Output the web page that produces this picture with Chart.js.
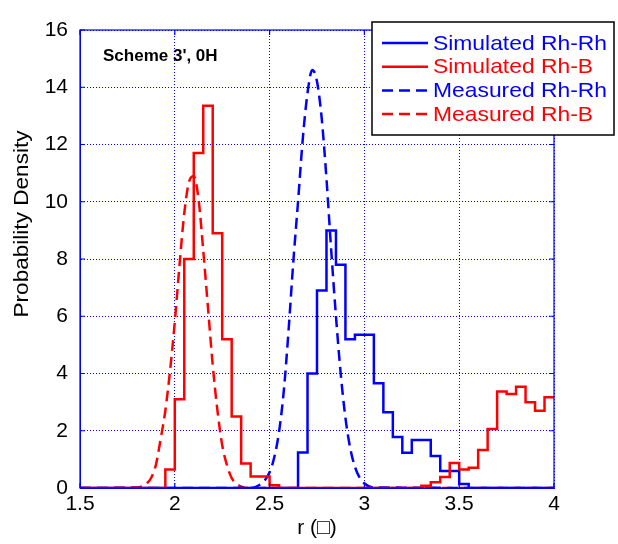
<!DOCTYPE html>
<html>
<head>
<meta charset="utf-8">
<script src="https://cdn.jsdelivr.net/npm/chart.js@4.4.0/dist/chart.umd.min.js"></script>
<style>
  html, body { margin: 0; padding: 0; background: #ffffff; }
  #wrap { width: 618px; height: 544px; }
</style>
</head>
<body>
<div id="wrap"><canvas id="myChart" width="618" height="544"></canvas></div>
<script>
// histogram bin edges (left edge of each bin, last one closes the final bin)
var binEdges = [1.5, 1.55, 1.6, 1.65, 1.7, 1.75, 1.8, 1.85, 1.9, 1.95,
                2.0, 2.05, 2.1, 2.15, 2.2, 2.25, 2.3, 2.35, 2.4, 2.45,
                2.5, 2.55, 2.6, 2.65, 2.7, 2.75, 2.8, 2.85, 2.9, 2.95,
                3.0, 3.05, 3.1, 3.15, 3.2, 3.25, 3.3, 3.35, 3.4, 3.45,
                3.5, 3.55, 3.6, 3.65, 3.7, 3.75, 3.8, 3.85, 3.9, 3.95, 4.0];

var simRhRh = [0, 0, 0, 0, 0, 0, 0, 0, 0, 0,
               0, 0, 0, 0, 0, 0, 0, 0, 0, 0,
               0, 0, 0, 1.24, 4.0, 6.9, 9.0, 7.8, 5.2, 5.35,
               5.35, 3.66, 2.65, 1.78, 1.23, 1.68, 1.68, 1.12, 0.59, 0.59,
               0.14, 0, 0, 0, 0, 0, 0, 0, 0, 0, 0];

var simRhB = [0, 0, 0, 0, 0, 0, 0, 0, 0, 0.65,
              3.1, 8.0, 11.7, 13.35, 8.9, 5.2, 2.5, 0.86, 0.4, 0.4,
              0.1, 0, 0, 0, 0, 0, 0, 0, 0, 0,
              0, 0, 0, 0, 0, 0, 0.08, 0.2, 0.38, 0.87,
              0.65, 0.71, 1.33, 2.06, 3.37, 3.28, 3.54, 3.0, 2.7, 3.17, 3.17];

// measured distributions (smooth curves)
var measRhRhR = [1.5, 2.4, 2.45, 2.475, 2.5, 2.525, 2.55, 2.575, 2.6, 2.625,
                 2.65, 2.675, 2.7, 2.725, 2.75, 2.775, 2.8, 2.825, 2.85, 2.875,
                 2.9, 2.925, 2.95, 2.975, 3.0, 3.05, 4.0];
var measRhRhY = [0, 0, 0.12, 0.27, 0.55, 1.08, 1.97, 3.4, 5.5, 7.9,
                 10.0, 12.2, 13.8, 14.6, 14.2, 12.9, 10.8, 8.3, 6.0, 4.0,
                 2.45, 1.4, 0.74, 0.36, 0.16, 0.02, 0];

var measRhBR = [1.5, 1.8, 1.85, 1.875, 1.9, 1.925, 1.95, 1.975, 2.0, 2.025,
                2.05, 2.075, 2.1, 2.125, 2.15, 2.175, 2.2, 2.225, 2.25, 2.275,
                2.3, 2.325, 2.35, 2.4, 4.0];
var measRhBY = [0, 0.02, 0.15, 0.35, 0.8, 1.7, 2.7, 4.1, 5.8, 7.8,
                9.6, 10.7, 10.9, 10.1, 8.3, 6.3, 4.3, 2.7, 1.5, 0.8,
                0.35, 0.15, 0.05, 0, 0];

var xTicks = [1.5, 2, 2.5, 3, 3.5, 4];
var xTickLabels = ['1.5', '2', '2.5', '3', '3.5', '4'];
var yTicks = [0, 2, 4, 6, 8, 10, 12, 14, 16];

var blue = 'rgb(0,0,255)';
var red = 'rgb(255,0,0)';
var fontFam = '"Liberation Sans", Arial, Helvetica, sans-serif';

function pairs(xs, ys) {
    return xs.map(function(x, i) { return {x: x, y: ys[i]}; });
}

// box, inner ticks, legend and labels
var decorations = {
    id: 'decorations',
    afterDatasetsDraw: function(chart) {
        var ctx = chart.ctx, a = chart.chartArea;
        var xs = chart.scales.x, ys = chart.scales.y;
        ctx.save();
        ctx.strokeStyle = blue;
        ctx.lineWidth = 1.2;
        ctx.strokeRect(a.left, a.top, a.right - a.left, a.bottom - a.top);
        ctx.beginPath();
        xTicks.forEach(function(v) {
            var px = xs.getPixelForValue(v);
            ctx.moveTo(px, a.bottom); ctx.lineTo(px, a.bottom - 5);
            ctx.moveTo(px, a.top); ctx.lineTo(px, a.top + 5);
        });
        yTicks.forEach(function(v) {
            var py = ys.getPixelForValue(v);
            ctx.moveTo(a.left, py); ctx.lineTo(a.left + 5, py);
            ctx.moveTo(a.right, py); ctx.lineTo(a.right - 5, py);
        });
        ctx.stroke();
        ctx.restore();
    },
    afterDraw: function(chart) {
        var ctx = chart.ctx;
        ctx.save();

        // annotation
        ctx.fillStyle = '#000';
        ctx.font = 'bold 17px ' + fontFam;
        ctx.textBaseline = 'middle';
        ctx.textAlign = 'left';
        ctx.fillText("Scheme 3', 0H", 103, 56);

        // y axis title
        ctx.font = '21px ' + fontFam;
        var yt = 'Probability Density';
        var sx = 187 / ctx.measureText(yt).width;
        ctx.save();
        ctx.translate(22, 224);
        ctx.rotate(-Math.PI / 2);
        ctx.scale(sx, 1);
        ctx.textAlign = 'center';
        ctx.fillText(yt, 0, 0);
        ctx.restore();

        // legend
        var lx = 372, ly = 22, lw = 242, lh = 113;
        ctx.fillStyle = '#fff';
        ctx.fillRect(lx, ly, lw, lh);
        ctx.strokeStyle = '#000';
        ctx.lineWidth = 1.5;
        ctx.strokeRect(lx, ly, lw, lh);
        ctx.font = '21px ' + fontFam;
        var tsx = 174 / ctx.measureText(chart.data.datasets[0].label).width;
        chart.data.datasets.forEach(function(ds, i) {
            var rowY = 43 + i * 23.7;
            ctx.strokeStyle = ds.borderColor;
            ctx.lineWidth = 2.5;
            ctx.setLineDash(ds.borderDash || []);
            ctx.beginPath();
            ctx.moveTo(382, rowY);
            ctx.lineTo(428, rowY);
            ctx.stroke();
            ctx.setLineDash([]);
            ctx.save();
            ctx.translate(433, rowY + 1);
            ctx.scale(tsx, 1);
            ctx.fillStyle = ds.borderColor;
            ctx.textAlign = 'left';
            ctx.textBaseline = 'middle';
            ctx.fillText(ds.label, 0, 0);
            ctx.restore();
        });
        ctx.restore();
    }
};

var ctx = document.getElementById('myChart').getContext('2d');
var myChart = new Chart(ctx, {
    type: 'line',
    data: {
        datasets: [{
            label: 'Simulated Rh-Rh',
            data: pairs(binEdges, simRhRh),
            borderColor: blue,
            borderWidth: 2.5,
            stepped: true,
            pointRadius: 0,
            fill: false,
            order: 1
        }, {
            label: 'Simulated Rh-B',
            data: pairs(binEdges, simRhB),
            borderColor: red,
            borderWidth: 2.5,
            stepped: true,
            pointRadius: 0,
            fill: false,
            order: 0
        }, {
            label: 'Measured Rh-Rh',
            data: pairs(measRhRhR, measRhRhY),
            borderColor: blue,
            borderWidth: 2.5,
            borderDash: [11, 6],
            cubicInterpolationMode: 'monotone',
            pointRadius: 0,
            fill: false,
            order: 2
        }, {
            label: 'Measured Rh-B',
            data: pairs(measRhBR, measRhBY),
            borderColor: red,
            borderWidth: 2.5,
            borderDash: [11, 6],
            cubicInterpolationMode: 'monotone',
            pointRadius: 0,
            fill: false,
            order: 3
        }]
    },
    options: {
        responsive: false,
        animation: false,
        devicePixelRatio: 1,
        layout: { padding: { top: 30, right: 64, left: 0, bottom: 0 } },
        plugins: {
            legend: { display: false },
            tooltip: { enabled: false }
        },
        scales: {
            x: {
                type: 'linear',
                min: 1.5,
                max: 4,
                afterBuildTicks: function(scale) {
                    scale.ticks = xTicks.map(function(v) { return {value: v}; });
                },
                afterFit: function(scale) { scale.height = 56; },
                ticks: {
                    color: '#000',
                    padding: 4,
                    maxRotation: 0,
                    font: { family: fontFam, size: 21 },
                    callback: function(value) {
                        var i = xTicks.indexOf(value);
                        return i >= 0 ? xTickLabels[i] : '';
                    }
                },
                grid: { color: blue, lineWidth: 1, drawTicks: false },
                border: { display: true, color: blue, width: 1, dash: [1, 2] },
                title: {
                    display: true,
                    text: 'r (\u25A1)',
                    color: '#000',
                    font: { family: fontFam, size: 21 },
                    padding: { top: 0, bottom: 3 }
                }
            },
            y: {
                min: 0,
                max: 16,
                afterBuildTicks: function(scale) {
                    scale.ticks = yTicks.map(function(v) { return {value: v}; });
                },
                afterFit: function(scale) { scale.width = 80; },
                ticks: {
                    color: '#000',
                    padding: 12,
                    font: { family: fontFam, size: 21 }
                },
                grid: { color: blue, lineWidth: 1, drawTicks: false },
                border: { display: true, color: blue, width: 1, dash: [1, 2] }
            }
        }
    },
    plugins: [decorations]
});
</script>
</body>
</html>
